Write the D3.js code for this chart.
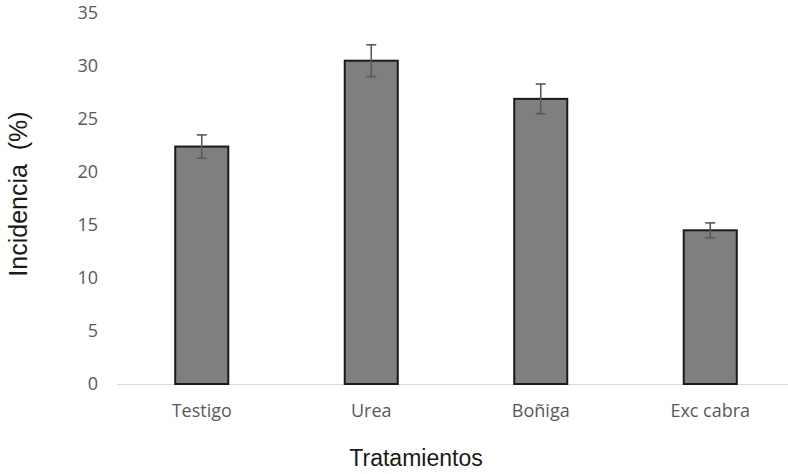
<!DOCTYPE html>
<html>
<head>
<meta charset="utf-8">
<script src="https://cdn.jsdelivr.net/npm/d3@7"></script>
<style>
  html, body { margin: 0; padding: 0; background: #fff; }
  svg { display: block; }
</style>
</head>
<body>
<svg id="chart" width="788" height="474"></svg>
<script>
const categories = ["Testigo", "Urea", "Boñiga", "Exc cabra"];
const values = [22.4, 30.5, 26.9, 14.5];
const errors = [1.1, 1.5, 1.4, 0.7];
const yTicks = [0, 5, 10, 15, 20, 25, 30, 35];

const svg = d3.select("#chart");
const x = d3.scaleBand().domain(categories).range([117, 795]).paddingInner(0).paddingOuter(0);
const y = d3.scaleLinear().domain([0, 35]).range([384, 13]);
const barW = x.bandwidth() * 0.313;

// baseline
svg.append("line")
  .attr("x1", 117).attr("x2", 788)
  .attr("y1", y(0) + 0.5).attr("y2", y(0) + 0.5)
  .attr("stroke", "#d9d9d9").attr("stroke-width", 1.2);

// y axis ticks (labels only)
const yAxis = d3.axisLeft(y).tickValues(yTicks).tickSize(0).tickPadding(0);
const gy = svg.append("g").attr("transform", "translate(98,0)").call(yAxis);
gy.select(".domain").remove();
gy.selectAll("text")
  .attr("font-family", "'Open Sans', sans-serif")
  .attr("font-size", 18)
  .attr("fill", "#595959");

// x axis labels
const xAxis = d3.axisBottom(x).tickSize(0).tickPadding(0);
const gx = svg.append("g").attr("transform", "translate(0,404)").call(xAxis);
gx.select(".domain").remove();
gx.selectAll("text")
  .attr("font-family", "'Open Sans', sans-serif")
  .attr("font-size", 18)
  .attr("fill", "#595959");

const data = categories.map((c, i) => ({ c, v: values[i], e: errors[i] }));

// bars
svg.append("g").selectAll("rect").data(data).join("rect")
  .attr("x", d => x(d.c) + x.bandwidth() / 2 - barW / 2)
  .attr("width", barW)
  .attr("y", d => y(d.v))
  .attr("height", d => y(0) - y(d.v))
  .attr("fill", "#7f7f7f")
  .attr("stroke", "#1a1a1a")
  .attr("stroke-width", 2);

// error bars
const eg = svg.append("g").attr("stroke", "#595959").attr("stroke-width", 1.6);
data.forEach(d => {
  const cx = x(d.c) + x.bandwidth() / 2;
  eg.append("line").attr("x1", cx).attr("x2", cx).attr("y1", y(d.v + d.e)).attr("y2", y(d.v - d.e));
  eg.append("line").attr("x1", cx - 5).attr("x2", cx + 5).attr("y1", y(d.v + d.e)).attr("y2", y(d.v + d.e));
  eg.append("line").attr("x1", cx - 5).attr("x2", cx + 5).attr("y1", y(d.v - d.e)).attr("y2", y(d.v - d.e));
});

// axis titles
svg.append("text")
  .attr("x", 416).attr("y", 466)
  .attr("text-anchor", "middle")
  .attr("font-family", "'Liberation Sans', Arial, sans-serif")
  .attr("font-size", 23)
  .attr("fill", "#1a1a1a")
  .text("Tratamientos");

svg.append("text")
  .attr("transform", "translate(27,194) rotate(-90)")
  .attr("text-anchor", "middle")
  .attr("font-family", "'Liberation Sans', Arial, sans-serif")
  .attr("font-size", 25)
  .attr("fill", "#1a1a1a")
  .style("white-space", "pre")
  .text("Incidencia  (%)");
</script>
</body>
</html>
